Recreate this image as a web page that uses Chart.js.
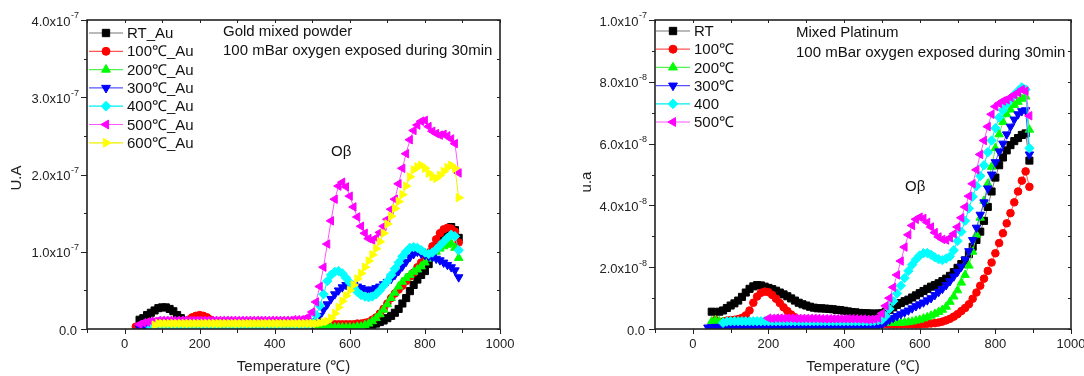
<!DOCTYPE html>
<html>
<head>
<meta charset="utf-8">
<script src="https://cdn.jsdelivr.net/npm/chart.js@4.4.0/dist/chart.umd.min.js"></script>
<style>
body { margin: 0; background: #fff; }
#wrap { position: relative; width: 1084px; height: 376px; }
canvas { position: absolute; top: 0; }
</style>
</head>
<body>
<div id="wrap">
  <canvas id="auChart" width="542" height="376" style="left:0"></canvas>
  <canvas id="ptChart" width="542" height="376" style="left:542px"></canvas>
</div>
<script>
const FONT = "'Liberation Sans', Arial, sans-serif";

// ---- Gold mixed powder (values in 1e-7) ----
const tempsAu = [
  30, 40, 50, 60, 70, 80, 90, 100, 110, 120,
  130, 140, 150, 160, 170, 180, 190, 200, 210, 220,
  230, 240, 250, 260, 270, 280, 290, 300, 310, 320,
  330, 340, 350, 360, 370, 380, 390, 400, 410, 420,
  430, 440, 450, 460, 470, 480, 490, 500, 510, 520,
  530, 540, 550, 560, 570, 580, 590, 600, 610, 620,
  630, 640, 650, 660, 670, 680, 690, 700, 710, 720,
  730, 740, 750, 760, 770, 780, 790, 800, 810, 820,
  830, 840, 850, 860, 870, 880, 890
];
const rtAu = [
  null, 0.12, 0.14, 0.18, 0.21, 0.24, 0.27, 0.28, 0.28, 0.26,
  0.23, 0.18, 0.14, 0.10, 0.08, 0.07, 0.06, 0.06, 0.05, 0.05,
  0.05, 0.05, 0.05, 0.05, 0.05, 0.05, 0.05, 0.05, 0.05, 0.05,
  0.05, 0.05, 0.05, 0.04, 0.04, 0.04, 0.04, 0.04, 0.04, 0.04,
  0.04, 0.04, 0.04, 0.04, 0.04, 0.04, 0.04, 0.04, 0.04, 0.04,
  0.04, 0.04, 0.04, 0.03, 0.03, 0.03, 0.03, 0.03, 0.03, 0.03,
  0.03, 0.04, 0.04, 0.05, 0.07, 0.09, 0.11, 0.14, 0.17, 0.21,
  0.26, 0.33, 0.40, 0.49, 0.57, 0.64, 0.70, 0.75, 0.84, 0.96,
  1.07, 1.16, 1.24, 1.29, 1.32, 1.28, 1.18
];
const au100 = [
  0.03, 0.04, 0.05, 0.06, 0.06, 0.07, 0.07, 0.07, 0.07, 0.07,
  0.07, 0.08, 0.09, 0.10, 0.12, 0.15, 0.17, 0.18, 0.17, 0.15,
  0.12, 0.09, 0.07, 0.06, 0.06, 0.06, 0.06, 0.06, 0.06, 0.06,
  0.06, 0.06, 0.06, 0.06, 0.06, 0.06, 0.06, 0.06, 0.06, 0.06,
  0.06, 0.06, 0.06, 0.06, 0.06, 0.06, 0.06, 0.06, 0.06, 0.06,
  0.06, 0.06, 0.06, 0.06, 0.06, 0.06, 0.06, 0.06, 0.06, 0.07,
  0.07, 0.08, 0.09, 0.12, 0.15, 0.20, 0.26, 0.33, 0.40, 0.46,
  0.51, 0.56, 0.62, 0.68, 0.73, 0.80, 0.86, 0.92, 0.99, 1.07,
  1.16, 1.24, 1.29, 1.31, 1.30, 1.26, 1.12
];
const au200 = [
  null, null, null, 0.02, 0.02, 0.02, 0.02, 0.02, 0.02, 0.02,
  0.02, 0.02, 0.02, 0.02, 0.02, 0.02, 0.02, 0.02, 0.02, 0.02,
  0.02, 0.02, 0.02, 0.02, 0.02, 0.02, 0.02, 0.02, 0.02, 0.02,
  0.02, 0.02, 0.02, 0.02, 0.02, 0.02, 0.02, 0.02, 0.02, 0.02,
  0.02, 0.02, 0.02, 0.02, 0.02, 0.02, 0.02, 0.02, 0.02, 0.02,
  0.02, 0.02, 0.02, 0.02, 0.02, 0.02, 0.02, 0.02, 0.02, 0.03,
  0.03, 0.05, 0.07, 0.10, 0.14, 0.19, 0.25, 0.32, 0.40, 0.47,
  0.55, 0.61, 0.66, 0.70, 0.74, 0.77, 0.81, 0.86, 0.91, 0.96,
  1.00, 1.04, 1.07, 1.09, 1.11, 1.05, 0.92
];
const au300 = [
  null, 0.01, 0.02, 0.03, 0.03, 0.03, 0.03, 0.03, 0.03, 0.03,
  0.03, 0.03, 0.03, 0.03, 0.03, 0.03, 0.03, 0.03, 0.03, 0.03,
  0.03, 0.03, 0.03, 0.03, 0.03, 0.03, 0.03, 0.03, 0.03, 0.03,
  0.03, 0.03, 0.03, 0.03, 0.03, 0.03, 0.03, 0.03, 0.03, 0.03,
  0.03, 0.03, 0.03, 0.03, 0.03, 0.03, 0.04, 0.05, 0.10, 0.17,
  0.25, 0.32, 0.39, 0.45, 0.50, 0.54, 0.57, 0.58, 0.57, 0.55,
  0.53, 0.51, 0.51, 0.51, 0.53, 0.55, 0.58, 0.61, 0.65, 0.70,
  0.75, 0.81, 0.87, 0.93, 0.97, 1.00, 0.98, 0.96, 0.94, 0.93,
  0.91, 0.89, 0.86, 0.83, 0.80, 0.76, 0.67
];
const au400 = [
  null, null, null, null, 0.02, 0.02, 0.02, 0.02, 0.02, 0.02,
  0.02, 0.02, 0.02, 0.02, 0.02, 0.02, 0.02, 0.02, 0.02, 0.02,
  0.02, 0.02, 0.02, 0.02, 0.02, 0.02, 0.02, 0.02, 0.02, 0.02,
  0.02, 0.02, 0.02, 0.02, 0.02, 0.02, 0.02, 0.02, 0.02, 0.02,
  0.02, 0.02, 0.02, 0.02, 0.02, 0.03, 0.04, 0.08, 0.18, 0.30,
  0.45, 0.62, 0.70, 0.74, 0.75, 0.72, 0.66, 0.60, 0.54, 0.48,
  0.44, 0.42, 0.41, 0.42, 0.45, 0.50, 0.56, 0.62, 0.70, 0.78,
  0.86, 0.94, 1.00, 1.05, 1.06, 1.05, 1.02, 0.99, 0.97, 0.99,
  1.03, 1.08, 1.13, 1.18, 1.22, 1.20, 1.02
];
const au500 = [
  null, 0.06, 0.08, 0.09, 0.10, 0.10, 0.11, 0.11, 0.11, 0.11,
  0.11, 0.11, 0.11, 0.11, 0.11, 0.11, 0.11, 0.11, 0.11, 0.11,
  0.11, 0.11, 0.11, 0.11, 0.11, 0.11, 0.11, 0.11, 0.11, 0.11,
  0.11, 0.11, 0.11, 0.11, 0.11, 0.11, 0.11, 0.11, 0.11, 0.11,
  0.11, 0.11, 0.12, 0.12, 0.12, 0.13, 0.16, 0.22, 0.35, 0.55,
  0.80, 1.10, 1.40, 1.68, 1.85, 1.90, 1.84, 1.72, 1.58, 1.45,
  1.33, 1.24, 1.17, 1.15, 1.18, 1.25, 1.33, 1.42, 1.55, 1.68,
  1.88, 2.08, 2.27, 2.45, 2.57, 2.64, 2.69, 2.70, 2.62, 2.56,
  2.53, 2.51, 2.52, 2.50, 2.46, 2.40, 2.02
];
const au600 = [
  null, null, null, null, null, 0.05, 0.07, 0.07, 0.07, 0.07,
  0.07, 0.07, 0.07, 0.07, 0.07, 0.07, 0.07, 0.07, 0.07, 0.07,
  0.07, 0.07, 0.07, 0.07, 0.07, 0.07, 0.07, 0.07, 0.07, 0.07,
  0.07, 0.07, 0.07, 0.07, 0.07, 0.07, 0.07, 0.07, 0.07, 0.07,
  0.07, 0.07, 0.07, 0.07, 0.07, 0.07, 0.07, 0.07, 0.07, 0.08,
  0.09, 0.10, 0.14, 0.20, 0.28, 0.36, 0.43, 0.50, 0.57, 0.65,
  0.72, 0.80, 0.88, 0.96, 1.04, 1.13, 1.24, 1.36, 1.46, 1.56,
  1.65, 1.74, 1.85, 1.97, 2.06, 2.10, 2.12, 2.08, 2.02, 1.97,
  1.95, 1.99, 2.04, 2.09, 2.12, 2.08, 1.70
];

// ---- Mixed Platinum (values in 1e-8) ----
const tempsPt = [
  40, 50, 60, 70, 80, 90, 100, 110, 120, 130,
  140, 150, 160, 170, 180, 190, 200, 210, 220, 230,
  240, 250, 260, 270, 280, 290, 300, 310, 320, 330,
  340, 350, 360, 370, 380, 390, 400, 410, 420, 430,
  440, 450, 460, 470, 480, 490, 500, 510, 520, 530,
  540, 550, 560, 570, 580, 590, 600, 610, 620, 630,
  640, 650, 660, 670, 680, 690, 700, 710, 720, 730,
  740, 750, 760, 770, 780, 790, 800, 810, 820, 830,
  840, 850, 860, 870, 880, 890
];
const rtPt = [
  null, 0.56, null, 0.56, 0.60, 0.68, 0.76, 0.83, 0.92, 1.04,
  1.18, 1.30, 1.38, 1.42, 1.41, 1.37, 1.33, 1.29, 1.24, 1.18,
  1.12, 1.06, 0.99, 0.92, 0.85, 0.80, 0.76, 0.72, 0.69, 0.67,
  0.67, 0.66, 0.65, 0.64, 0.62, 0.61, 0.59, 0.57, 0.55, 0.54,
  0.52, 0.51, 0.51, 0.50, 0.50, 0.50, 0.51, 0.56, 0.62, 0.70,
  0.78, 0.84, 0.90, 0.95, 1.02, 1.09, 1.16, 1.23, 1.30, 1.37,
  1.42, 1.48, 1.55, 1.63, 1.72, 1.84, 1.98, 2.10, 2.22, 2.42,
  2.66, 2.88, 3.15, 3.50, 3.95, 4.45, 4.90, 5.30, 5.55, 5.78,
  5.95, 6.08, 6.18, 6.28, 6.33, 5.45
];
const pt100 = [
  null, null, 0.29, 0.22, 0.24, 0.27, 0.29, 0.30, 0.32, 0.36,
  0.44, 0.60, 0.85, 1.05, 1.17, 1.21, 1.19, 1.10, 0.98, 0.84,
  0.70, 0.58, 0.47, 0.38, 0.31, 0.26, 0.23, 0.21, 0.20, 0.20,
  0.19, 0.19, 0.19, 0.19, 0.19, 0.18, 0.18, 0.18, 0.18, 0.18,
  0.18, 0.17, 0.17, 0.17, 0.16, 0.16, 0.16, 0.16, 0.15, 0.15,
  0.15, 0.15, 0.15, 0.15, 0.15, 0.15, 0.15, 0.16, 0.17, 0.18,
  0.19, 0.21, 0.24, 0.28, 0.33, 0.40, 0.48, 0.58, 0.68, 0.80,
  0.98, 1.18, 1.40, 1.63, 1.88, 2.15, 2.45, 2.78, 3.10, 3.42,
  3.75, 4.10, 4.45, 4.80, 5.10, 4.60
];
const pt200 = [
  null, 0.25, 0.28, 0.25, 0.22, 0.22, 0.24, 0.24, 0.22, 0.22,
  0.21, 0.21, 0.21, 0.21, 0.21, 0.21, 0.21, 0.21, 0.21, 0.21,
  0.21, 0.21, 0.21, 0.21, 0.21, 0.21, 0.21, 0.21, 0.21, 0.21,
  0.20, 0.20, 0.20, 0.20, 0.20, 0.20, 0.20, 0.20, 0.20, 0.20,
  0.20, 0.20, 0.20, 0.20, 0.20, 0.20, 0.20, 0.20, 0.20, 0.20,
  0.20, 0.20, 0.21, 0.22, 0.24, 0.27, 0.30, 0.34, 0.38, 0.43,
  0.49, 0.55, 0.62, 0.72, 0.88, 1.05, 1.25, 1.50, 1.75, 2.05,
  2.50, 3.05, 3.60, 4.15, 4.70, 5.25, 5.85, 6.30, 6.70, 6.95,
  7.10, 7.25, 7.35, 7.45, 7.52, 6.45
];
const pt300 = [
  0.05, 0.06, 0.07, 0.07, 0.06, 0.06, 0.06, 0.06, 0.06, 0.06,
  0.06, 0.06, 0.06, 0.06, 0.06, 0.06, 0.06, 0.06, 0.06, 0.06,
  0.06, 0.06, 0.06, 0.06, 0.06, 0.06, 0.06, 0.06, 0.06, 0.06,
  0.06, 0.06, 0.06, 0.06, 0.06, 0.06, 0.06, 0.06, 0.06, 0.06,
  0.06, 0.06, 0.07, 0.07, 0.08, 0.10, 0.15, 0.22, 0.30, 0.36,
  0.42, 0.48, 0.54, 0.60, 0.67, 0.74, 0.80, 0.86, 0.93, 1.00,
  1.10, 1.20, 1.30, 1.42, 1.55, 1.70, 1.85, 2.02, 2.25, 2.52,
  2.88, 3.28, 3.70, 4.10, 4.55, 5.00, 5.40, 5.75, 6.00, 6.30,
  6.55, 6.78, 6.95, 7.05, 7.08, 5.65
];
const pt400 = [
  null, null, null, null, 0.20, 0.24, 0.25, 0.25, 0.25, 0.25,
  0.25, 0.25, 0.25, 0.25, 0.25, 0.25, 0.25, 0.25, 0.25, 0.25,
  0.25, 0.25, 0.25, 0.25, 0.25, 0.25, 0.25, 0.25, 0.25, 0.25,
  0.25, 0.25, 0.25, 0.25, 0.25, 0.25, 0.25, 0.25, 0.25, 0.25,
  0.25, 0.25, 0.25, 0.25, 0.26, 0.28, 0.30, 0.42, 0.65, 0.90,
  1.15, 1.40, 1.65, 1.88, 2.08, 2.25, 2.38, 2.45, 2.46, 2.40,
  2.32, 2.26, 2.23, 2.28, 2.35, 2.55, 2.85, 3.15, 3.50, 3.90,
  4.28, 4.62, 4.95, 5.30, 5.72, 6.10, 6.50, 6.85, 7.08, 7.28,
  7.45, 7.58, 7.70, 7.82, 7.75, 5.85
];
const pt500 = [
  null, null, null, null, null, null, null, null, null, null,
  null, null, null, null, null, null, 0.35, 0.34, 0.35, 0.35,
  0.35, 0.35, 0.35, 0.34, 0.34, 0.34, 0.34, 0.34, 0.34, 0.34,
  0.33, 0.33, 0.33, 0.33, 0.33, 0.33, 0.33, 0.33, 0.33, 0.33,
  0.32, 0.32, 0.31, 0.31, 0.32, 0.35, 0.50, 0.75, 1.00, 1.35,
  1.75, 2.20, 2.65, 3.05, 3.35, 3.55, 3.62, 3.58, 3.45, 3.30,
  3.12, 2.98, 2.90, 2.88, 2.95, 3.08, 3.30, 3.60, 3.95, 4.30,
  4.70, 5.15, 5.65, 6.10, 6.55, 6.95, 7.20, 7.30, 7.38, 7.42,
  7.50, 7.58, 7.65, 7.75, 7.70, 6.90
];

// tick labels
const xTickLabels = [0, 200, 400, 600, 800, 1000];
const auYTickVals = [0, 1, 2, 3, 4];
const auYTickText = ['0.0', '1.0x10', '2.0x10', '3.0x10', '4.0x10'];
const auYTickExp = ['', '-7', '-7', '-7', '-7'];
const ptYTickVals = [0, 2, 4, 6, 8, 10];
const ptYTickText = ['0.0', '2.0x10', '4.0x10', '6.0x10', '8.0x10', '1.0x10'];
const ptYTickExp = ['', '-8', '-8', '-8', '-8', '-7'];

const auLabels = ['RT_Au', '100\u2103_Au', '200\u2103_Au', '300\u2103_Au', '400\u2103_Au', '500\u2103_Au', '600\u2103_Au'];
const ptLabels = ['RT', '100\u2103', '200\u2103', '300\u2103', '400', '500\u2103'];

// marker styles (same order for both panels)
const styles = [
  { color: '#000000', line: '#777777', shape: 'rect', rot: 0, r: 5 },
  { color: '#ff0000', line: '#ff5555', shape: 'circle', rot: 0, r: 3.8 },
  { color: '#00ff00', line: '#55ee55', shape: 'triangle', rot: 0, r: 4.9 },
  { color: '#0000ff', line: '#5555ff', shape: 'triangle', rot: 180, r: 4.9 },
  { color: '#00ffff', line: '#00eeee', shape: 'rectRot', rot: 0, r: 4.7 },
  { color: '#ff00ff', line: '#ff55ff', shape: 'triangle', rot: 270, r: 4.9 },
  { color: '#ffff00', line: '#eeee00', shape: 'triangle', rot: 90, r: 4.9 }
];

function buildSets(temps, series, labels) {
  return series.map((vals, i) => {
    const s = styles[i];
    return {
      label: labels[i],
      data: temps.map((t, k) => ({ x: t, y: vals[k] })),
      borderColor: s.line,
      borderWidth: 1,
      backgroundColor: s.color,
      pointBackgroundColor: s.color,
      pointBorderColor: s.color,
      pointBorderWidth: 1,
      pointStyle: s.shape,
      pointRotation: s.rot,
      pointRadius: s.r,
      spanGaps: true,
      order: series.length - i
    };
  });
}

// draws the Origin-style frame, ticks, labels, legend and notes
const originFrame = {
  id: 'originFrame',
  afterDatasetsDraw(chart, args, o) {
    const ctx = chart.ctx;
    const { left, right, top, bottom } = chart.chartArea;
    const xs = chart.scales.x, ys = chart.scales.y;
    ctx.save();

    // ticks
    ctx.strokeStyle = '#222';
    ctx.lineWidth = 1;
    ctx.beginPath();
    for (let v = xs.min; v <= xs.max + 1e-9; v += o.xMinorStep) {
      const px = Math.round(xs.getPixelForValue(v)) + 0.5;
      const major = xTickLabels.includes(v);
      ctx.moveTo(px, bottom); ctx.lineTo(px, bottom + (major ? 5 : 4));
      ctx.moveTo(px, top); ctx.lineTo(px, top + 3);
    }
    for (let v = ys.min; v <= ys.max + 1e-9; v += o.yMinorStep) {
      const py = Math.round(ys.getPixelForValue(v)) + 0.5;
      const major = o.yVals.some(t => Math.abs(t - v) < 1e-6);
      ctx.moveTo(left, py); ctx.lineTo(left - (major ? 6 : 3), py);
      ctx.moveTo(right, py); ctx.lineTo(right - 3, py);
    }
    ctx.stroke();

    // frame
    ctx.lineWidth = 1.6;
    ctx.strokeRect(left, top, right - left, bottom - top);

    // x tick labels
    ctx.fillStyle = '#222';
    ctx.font = '13px ' + FONT;
    ctx.textAlign = 'center';
    ctx.textBaseline = 'top';
    xTickLabels.forEach(v => ctx.fillText(String(v), xs.getPixelForValue(v), bottom + 9));

    // y tick labels with superscript
    ctx.textBaseline = 'middle';
    o.yVals.forEach((v, i) => {
      const py = ys.getPixelForValue(v);
      const main = o.yText[i], exp = o.yExp[i];
      ctx.font = '9px ' + FONT;
      const ew = exp ? ctx.measureText(exp).width : 0;
      const endX = left - 8;
      if (exp) {
        ctx.textAlign = 'right';
        ctx.fillText(exp, endX, py - 4);
      }
      ctx.font = '13px ' + FONT;
      ctx.textAlign = 'right';
      ctx.fillText(main, exp ? endX - ew - 0.5 : endX - 2, py + 2);
    });

    // axis titles
    ctx.font = '15px ' + FONT;
    ctx.textAlign = 'center';
    ctx.fillText(o.xTitle, (left + right) / 2, o.xTitleY);
    ctx.save();
    ctx.translate(o.yTitleX, o.yTitleY);
    ctx.rotate(-Math.PI / 2);
    ctx.fillText(o.yTitle, 0, 0);
    ctx.restore();

    // legend
    const lg = o.legend;
    chart.data.datasets.forEach((ds, i) => {
      const y = lg.y0 + lg.dy * i;
      ctx.strokeStyle = ds.borderColor;
      ctx.lineWidth = 1.2;
      ctx.beginPath();
      ctx.moveTo(lg.x1, y); ctx.lineTo(lg.x2, y);
      ctx.stroke();
      ctx.fillStyle = ds.pointBackgroundColor;
      ctx.strokeStyle = ds.pointBorderColor;
      ctx.lineWidth = 1;
      Chart.helpers.drawPoint(ctx, {
        pointStyle: ds.pointStyle, rotation: ds.pointRotation,
        radius: ds.pointRadius + 0.2, borderWidth: 1
      }, (lg.x1 + lg.x2) / 2, y);
      ctx.fillStyle = '#111';
      ctx.font = '15px ' + FONT;
      ctx.textAlign = 'left';
      ctx.textBaseline = 'middle';
      ctx.fillText(ds.label, lg.textX, y + 1);
    });

    // notes
    ctx.fillStyle = '#111';
    ctx.font = '15px ' + FONT;
    ctx.textAlign = 'left';
    ctx.textBaseline = 'middle';
    o.notes.forEach(n => ctx.fillText(n.text, n.x, n.y));
    ctx.restore();
  }
};

function makeChart(id, temps, series, labels, yMax, pad, frame) {
  return new Chart(document.getElementById(id), {
    type: 'line',
    data: { datasets: buildSets(temps, series, labels) },
    options: {
      responsive: false,
      animation: false,
      layout: { padding: pad },
      scales: {
        x: { type: 'linear', display: false, min: -100, max: 1000 },
        y: { type: 'linear', display: false, min: 0, max: yMax }
      },
      plugins: {
        legend: { display: false },
        tooltip: { enabled: false },
        originFrame: frame
      }
    },
    plugins: [originFrame]
  });
}

makeChart('auChart', tempsAu, [rtAu, au100, au200, au300, au400, au500, au600], auLabels, 4,
  { left: 87, right: 42, top: 20, bottom: 47 },
  {
    xMinorStep: 100, yMinorStep: 0.5,
    yVals: auYTickVals, yText: auYTickText, yExp: auYTickExp,
    xTitle: 'Temperature (\u2103)', xTitleY: 367,
    yTitle: 'U.A', yTitleX: 17, yTitleY: 178,
    legend: { x1: 89, x2: 123, textX: 127, y0: 33, dy: 18.3 },
    notes: [
      { text: 'Gold mixed powder', x: 223, y: 32 },
      { text: '100 mBar oxygen exposed during 30min', x: 223, y: 51 },
      { text: 'O\u03b2', x: 331, y: 152 }
    ]
  });

makeChart('ptChart', tempsPt, [rtPt, pt100, pt200, pt300, pt400, pt500], ptLabels, 10,
  { left: 113, right: 13, top: 20, bottom: 47 },
  {
    xMinorStep: 100, yMinorStep: 1,
    yVals: ptYTickVals, yText: ptYTickText, yExp: ptYTickExp,
    xTitle: 'Temperature (\u2103)', xTitleY: 367,
    yTitle: 'u.a', yTitleX: 45, yTitleY: 182,
    legend: { x1: 114, x2: 148, textX: 152, y0: 31, dy: 18.2 },
    notes: [
      { text: 'Mixed Platinum', x: 254, y: 33 },
      { text: '100 mBar oxygen exposed during 30min', x: 254, y: 53 },
      { text: 'O\u03b2', x: 363, y: 187 }
    ]
  });
</script>
</body>
</html>
